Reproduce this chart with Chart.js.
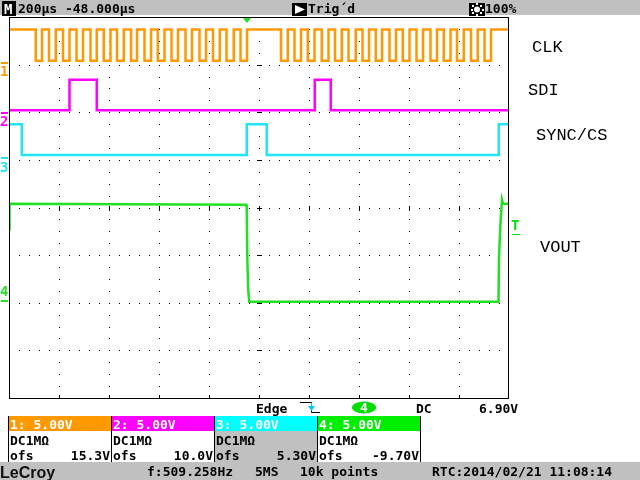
<!DOCTYPE html>
<html>
<head>
<meta charset="utf-8">
<title>LeCroy capture</title>
<script src="https://cdn.jsdelivr.net/npm/chart.js@4.4.1/dist/chart.umd.min.js"></script>
<style>
  html, body { margin: 0; padding: 0; background: #fff; }
  canvas { display: block; }
</style>
</head>
<body>
<canvas id="scope" width="640" height="480"></canvas>
<script>
// time base: 200 µs/div, delay -48 µs -> µs relative to the trigger
const timeMin = -952;
const timeMax = 1048;

// channel setup as shown in the boxes under the grid
const channelNames = ['CLK', 'SDI', 'SYNC/CS', 'VOUT'];
const voltsPerDiv = [5, 5, 5, 5];
const offsets = [15.3, 10.0, 5.30, -9.70];
const triggerLevel = 6.90;

// logic levels (V): [low, high]
const clkLevels = [0.1, 3.4];
const sdiLevels = [0.2, 3.4];
const syncLevels = [0.2, 3.45];

// CLK edges (µs)
const clkFalls = [-845, -792, -736, -682, -626, -573, -520, -464, -410, -357, -302, -246, -190, -136, -82, -26,
                  136, 190, 243, 299, 352, 406, 462, 515, 570, 623, 678, 734, 787, 840, 896, 950];
const clkRises = [-820, -765, -710, -656, -601, -546, -493, -440, -384, -330, -276, -220, -164, -109, -53, 0,
                  163, 216, 270, 326, 379, 435, 488, 540, 596, 650, 704, 760, 814, 867, 923, 976];

// SDI edges (µs)
const sdiRises = [-710, 271];
const sdiFalls = [-601, 335];

// SYNC/CS edges (µs)
const syncFalls = [-901, 79];
const syncRises = [-1, 1007];

// VOUT samples
const voutTimes = [-952, -950, -3, -1, 1, 5, 9, 1006, 1008, 1014, 1020, 1024, 1048];
const voutVolts = [7.4, 10.1, 10.0, 9.5, 4.5, 1.0, -0.2, -0.2, 4.5, 8.1, 10.5, 10.1, 10.1];

const traceColors = ['#ff9900', '#ff00ff', '#22e4f4', '#22e022'];
const headColors = ['#ff9900', '#ff00ff', '#00ffff', '#00ee00'];
const mono = '"DejaVu Sans Mono", monospace';

function stepSeries(startHigh, falls, rises, levels) {
  const edges = falls.map(t => ({ x: t, y: levels[0] }))
    .concat(rises.map(t => ({ x: t, y: levels[1] })))
    .sort((a, b) => a.x - b.x);
  const first = { x: timeMin, y: startHigh ? levels[1] : levels[0] };
  const last = { x: timeMax, y: edges.length ? edges[edges.length - 1].y : first.y };
  return [first, ...edges, last];
}

const voutData = voutTimes.map((t, i) => ({ x: t, y: voutVolts[i] }));

const yScales = {};
channelNames.forEach((name, i) => {
  yScales['y' + (i + 1)] = {
    type: 'linear',
    display: false,
    min: -4 * voltsPerDiv[i] - offsets[i],
    max: 4 * voltsPerDiv[i] - offsets[i]
  };
});

function drawGraticule(chart) {
  const { ctx, chartArea: a } = chart;
  const divW = (a.right - a.left) / 10;
  const divH = (a.bottom - a.top) / 8;
  ctx.save();
  ctx.fillStyle = '#000';
  for (let r = 1; r < 8; r++) {
    const py = Math.round(a.top + r * divH);
    for (let k = 1; k < 50; k++) {
      ctx.fillRect(Math.round(a.left + k * divW / 5), py, 1, 1);
    }
  }
  for (let c = 1; c < 10; c++) {
    const px = Math.round(a.left + c * divW);
    for (let k = 1; k < 32; k++) {
      ctx.fillRect(px, Math.round(a.top + k * divH / 4), 1, 1);
    }
  }
  // centre cross ticks
  const cx = Math.round(a.left + 5 * divW);
  const cy = Math.round(a.top + 4 * divH);
  for (let r = 1; r < 8; r++) {
    ctx.fillRect(cx - 2, Math.round(a.top + r * divH), 5, 1);
  }
  for (let c = 1; c < 10; c++) {
    ctx.fillRect(Math.round(a.left + c * divW), cy - 2, 1, 5);
  }
  // ticks on the bottom edge
  for (let c = 1; c < 10; c++) {
    ctx.fillRect(Math.round(a.left + c * divW), Math.round(a.bottom) - 3, 1, 3);
  }
  ctx.restore();
}

function drawHeader(ctx) {
  ctx.fillStyle = '#c0c0c0';
  ctx.fillRect(0, 0, 640, 15);
  ctx.fillStyle = '#000';
  ctx.fillRect(2, 1, 14, 15);
  ctx.fillRect(292, 3, 15, 13);
  ctx.fillRect(469, 3, 16, 13);
  ctx.fillStyle = '#fff';
  ctx.font = 'bold 14px ' + mono;
  ctx.fillText('M', 4, 14);
  // play triangle
  ctx.beginPath();
  ctx.moveTo(295, 5); ctx.lineTo(305, 9.5); ctx.lineTo(295, 14); ctx.closePath();
  ctx.fill();
  // brightness sun
  ctx.beginPath();
  ctx.arc(477, 9.5, 3, 0, Math.PI * 2);
  ctx.fill();
  for (let k = 0; k < 8; k++) {
    const ang = k * Math.PI / 4;
    ctx.fillRect(Math.round(477 + Math.cos(ang) * 5.5) - 1, Math.round(9.5 + Math.sin(ang) * 5.5) - 1, 2, 2);
  }
  ctx.fillStyle = '#000';
  ctx.font = 'bold 13px ' + mono;
  ctx.fillText('200µs -48.000µs', 18, 13);
  ctx.fillText('Trig´d', 308, 13);
  ctx.fillText('100%', 485, 13);
}

function drawBottom(ctx, chart) {
  // trigger line
  ctx.fillStyle = '#000';
  ctx.font = 'bold 13px ' + mono;
  ctx.fillText('Edge', 256, 413);
  ctx.fillText('DC', 416, 413);
  ctx.fillText(triggerLevel.toFixed(2) + 'V', 479, 413);
  ctx.strokeStyle = '#000';
  ctx.lineWidth = 1;
  ctx.beginPath();
  ctx.moveTo(300, 402.5); ctx.lineTo(311.5, 402.5); ctx.lineTo(311.5, 412.5); ctx.lineTo(320, 412.5);
  ctx.stroke();
  ctx.strokeStyle = '#00c8ff';
  ctx.fillStyle = '#00c8ff';
  ctx.beginPath();
  ctx.moveTo(311.5, 403); ctx.lineTo(311.5, 410); ctx.stroke();
  ctx.beginPath();
  ctx.moveTo(308, 406); ctx.lineTo(315, 406); ctx.lineTo(311.5, 411); ctx.closePath();
  ctx.fill();
  ctx.fillStyle = '#00dd00';
  ctx.beginPath();
  ctx.ellipse(364, 407.5, 12, 6, 0, 0, Math.PI * 2);
  ctx.fill();
  ctx.fillStyle = '#fff';
  ctx.font = 'bold 13px ' + mono;
  ctx.fillText('4', 360, 412);

  // channel boxes
  const boxW = 103;
  channelNames.forEach((name, i) => {
    const x0 = 8 + i * boxW;
    ctx.fillStyle = i === 2 ? '#c0c0c0' : '#fff';
    ctx.fillRect(x0, 431, boxW, 31);
    ctx.fillStyle = headColors[i];
    ctx.fillRect(x0, 416, boxW, 15);
    ctx.fillStyle = '#fff';
    ctx.font = 'bold 13px ' + mono;
    ctx.fillText((i + 1) + ': ' + voltsPerDiv[i].toFixed(2) + 'V', x0 + 2, 429);
    ctx.fillStyle = '#000';
    ctx.fillText('DC1MΩ', x0 + 2, 445);
    ctx.fillText('ofs', x0 + 2, 460);
    ctx.textAlign = 'right';
    ctx.fillText(offsets[i].toPrecision(3) + 'V', x0 + boxW - 1, 460);
    ctx.textAlign = 'left';
  });
  ctx.fillStyle = '#000';
  for (let i = 0; i <= 4; i++) {
    ctx.fillRect(8 + i * boxW, 416, 1, 46);
  }

  // status bar
  ctx.fillStyle = '#c0c0c0';
  ctx.fillRect(0, 462, 640, 18);
  ctx.fillStyle = '#111';
  ctx.font = 'bold 16px "Liberation Sans", sans-serif';
  ctx.fillText('LeCroy', 0, 478);
  ctx.fillStyle = '#000';
  ctx.font = 'bold 13px ' + mono;
  ctx.fillText('f:509.258Hz', 147, 476);
  ctx.fillText('5MS', 255, 476);
  ctx.fillText('10k points', 300, 476);
  ctx.fillText('RTC:2014/02/21 11:08:14', 432, 476);
}

function drawMarkers(ctx, chart) {
  const a = chart.chartArea;
  // frame
  ctx.strokeStyle = '#000';
  ctx.lineWidth = 1;
  ctx.strokeRect(Math.round(a.left) + 0.5, Math.round(a.top) + 0.5,
    Math.round(a.right - a.left) - 1, Math.round(a.bottom - a.top));

  // ground markers and channel numbers on the left
  const numberShift = [10, 10, 11, -8];
  ctx.font = 'bold 14px ' + mono;
  channelNames.forEach((name, i) => {
    const gy = Math.round(chart.scales['y' + (i + 1)].getPixelForValue(0));
    ctx.fillStyle = traceColors[i];
    ctx.fillRect(1, gy, 7, 2);
    ctx.textBaseline = 'middle';
    ctx.fillText(String(i + 1), 0, gy + numberShift[i]);
    ctx.textBaseline = 'alphabetic';
  });

  // trigger position arrow and level marker
  const tx = chart.scales.x.getPixelForValue(0);
  ctx.fillStyle = '#22dd22';
  ctx.beginPath();
  ctx.moveTo(tx - 4, 18); ctx.lineTo(tx + 4, 18); ctx.lineTo(tx, 23); ctx.closePath();
  ctx.fill();
  const ty = Math.round(chart.scales.y4.getPixelForValue(triggerLevel));
  ctx.fillStyle = '#00dd00';
  ctx.fillRect(512, ty, 8, 1);
  ctx.font = 'bold 14px ' + mono;
  ctx.fillText('T', 511, ty - 4);

  // signal names on the right
  ctx.fillStyle = '#000';
  ctx.font = '17px "Liberation Mono", monospace';
  ctx.fillText('CLK', 532, 52);
  ctx.fillText('SDI', 528, 95);
  ctx.fillText('SYNC/CS', 536, 140);
  ctx.fillText('VOUT', 540, 252);
}

const scopeScreen = {
  id: 'scopeScreen',
  beforeDraw(chart) {
    const ctx = chart.ctx;
    ctx.save();
    ctx.fillStyle = '#fff';
    ctx.fillRect(0, 0, chart.width, chart.height);
    ctx.restore();
  },
  beforeDatasetsDraw(chart) {
    drawGraticule(chart);
  },
  afterDraw(chart) {
    const ctx = chart.ctx;
    ctx.save();
    drawMarkers(ctx, chart);
    drawHeader(ctx);
    drawBottom(ctx, chart);
    ctx.restore();
  }
};

const ctx = document.getElementById('scope').getContext('2d');
new Chart(ctx, {
  type: 'line',
  data: {
    datasets: [
      { label: channelNames[0], data: stepSeries(true, clkFalls, clkRises, clkLevels), yAxisID: 'y1',
        borderColor: traceColors[0], borderWidth: 2.5, stepped: true },
      { label: channelNames[1], data: stepSeries(false, sdiFalls, sdiRises, sdiLevels), yAxisID: 'y2',
        borderColor: traceColors[1], borderWidth: 2.5, stepped: true },
      { label: channelNames[2], data: stepSeries(true, syncFalls, syncRises, syncLevels), yAxisID: 'y3',
        borderColor: traceColors[2], borderWidth: 2.5, stepped: true },
      { label: channelNames[3], data: voutData, yAxisID: 'y4',
        borderColor: traceColors[3], borderWidth: 2.5 }
    ]
  },
  options: {
    responsive: false,
    animation: false,
    parsing: false,
    layout: { padding: { left: 9, top: 17, right: 131, bottom: 82 } },
    elements: { point: { radius: 0 }, line: { tension: 0 } },
    plugins: { legend: { display: false }, tooltip: { enabled: false } },
    scales: Object.assign({
      x: { type: 'linear', display: false, min: timeMin, max: timeMax }
    }, yScales)
  },
  plugins: [scopeScreen]
});
</script>
</body>
</html>
